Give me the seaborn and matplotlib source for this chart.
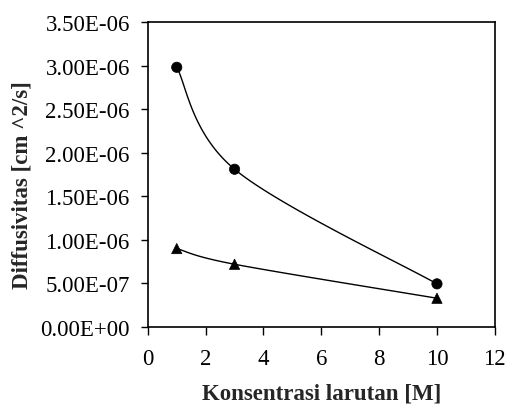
import numpy as np
import pandas as pd
import matplotlib
matplotlib.use("Agg")
import matplotlib.pyplot as plt
import seaborn as sns

# Measured diffusivity versus solution concentration
konsentrasi = [1, 3, 10]
difusi_a = [2.98e-06, 1.81e-06, 4.95e-07]
difusi_b = [9.0e-07, 7.2e-07, 3.3e-07]
seri = ["A", "B"]
x_ticks = [0, 2, 4, 6, 8, 10, 12]
y_ticks = [0.0, 5e-07, 1e-06, 1.5e-06, 2e-06, 2.5e-06, 3e-06, 3.5e-06]

sns.set_theme(style="white")
plt.rcParams["font.family"] = ["Liberation Serif", "DejaVu Serif"]

df = pd.DataFrame({
    "x": konsentrasi * 2,
    "y": difusi_a + difusi_b,
    "seri": [seri[0]] * 3 + [seri[1]] * 3,
})

fig = plt.figure(figsize=(5.08, 4.10), dpi=100)
ax = fig.add_axes([0.291, 0.2, 0.683, 0.744])
ax.set_xlim(0, 12)
ax.set_ylim(0, 3.5e-06)


def smooth_curve(xs, ys, ax, n=60):
    """Spreadsheet-style smoothed line: cubic Bezier with 1/6 tangents, built in display space."""
    pts = ax.transData.transform(np.column_stack([xs, ys]))
    out = []
    m = len(pts)
    for i in range(m - 1):
        p0 = pts[max(i - 1, 0)]
        p1 = pts[i]
        p2 = pts[i + 1]
        p3 = pts[min(i + 2, m - 1)]
        c1 = p1 + (p2 - p0) / 6.0
        c2 = p2 - (p3 - p1) / 6.0
        t = np.linspace(0, 1, n)[:, None]
        seg = ((1 - t) ** 3) * p1 + 3 * ((1 - t) ** 2) * t * c1 + 3 * (1 - t) * t ** 2 * c2 + t ** 3 * p2
        out.append(seg if i == 0 else seg[1:])
    curve = np.vstack(out)
    return ax.transData.inverted().transform(curve)


for vals in (difusi_a, difusi_b):
    c = smooth_curve(konsentrasi, vals, ax)
    ax.plot(c[:, 0], c[:, 1], color="black", lw=1.0, zorder=2)

sns.scatterplot(data=df, x="x", y="y", style="seri", markers={"A": "o", "B": "^"},
                color="black", s=55, edgecolor="black", linewidth=0.5,
                legend=False, ax=ax, zorder=3)

ax.set_xticks(x_ticks)
ax.set_yticks(y_ticks)
ax.set_xticklabels([str(v) for v in x_ticks])
ax.set_yticklabels([f"{v:.2E}" for v in y_ticks])
ax.tick_params(axis="both", direction="out", length=6, width=1.0, color="black",
               labelsize=16.5, labelcolor="black")
ax.tick_params(axis="x", bottom=True, pad=9)
ax.tick_params(axis="y", left=True, pad=8, length=5)
for sp in ax.spines.values():
    sp.set_visible(True)
    sp.set_color("black")
    sp.set_linewidth(1.2)

ax.set_xlabel("Konsentrasi larutan [M]", fontsize=16.5, fontweight="bold", labelpad=10)
ax.set_ylabel("Diffusivitas [cm ^2/s]", fontsize=16.5, fontweight="bold")
ax.yaxis.set_label_coords(-0.331, 0.469)
ax.grid(False)

fig.savefig("out.png", dpi=100, facecolor="white")
